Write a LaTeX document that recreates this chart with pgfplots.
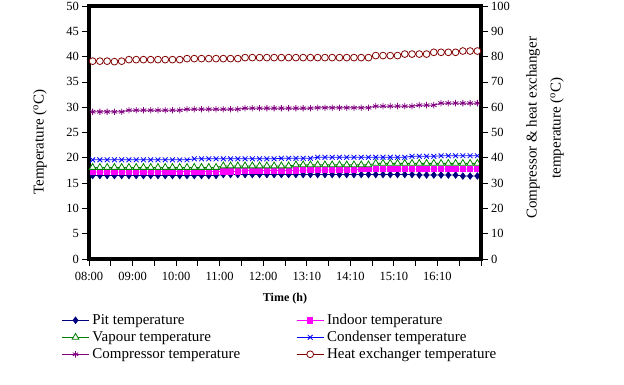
\documentclass[border=0pt]{standalone}
\usepackage{fontspec}
\setmainfont{Liberation Serif}
\usepackage{pgfplots}
\usepackage{pgfplotstable}
\pgfplotsset{compat=1.18}
\definecolor{pitc}{HTML}{000080}
\definecolor{indc}{HTML}{FF00FF}
\definecolor{vapc}{HTML}{008000}
\definecolor{conc}{HTML}{0000FF}
\definecolor{comc}{HTML}{800080}
\definecolor{hexc}{HTML}{800000}

\pgfplotstableread{
x pit indoor vapour cond comp he
0.5 16.5 17.2 18.1 19.6 58.2 78.2
1.5 16.5 17.2 18.1 19.6 58.2 78.2
2.5 16.5 17.2 18.1 19.6 58.2 78.2
3.5 16.5 17.2 18.1 19.6 58.2 78.0
4.5 16.5 17.2 18.1 19.6 58.2 78.2
5.5 16.5 17.2 18.1 19.6 58.8 78.8
6.5 16.5 17.2 18.1 19.6 58.8 78.8
7.5 16.5 17.2 18.1 19.6 58.8 78.8
8.5 16.5 17.2 18.1 19.6 58.8 78.8
9.5 16.5 17.2 18.1 19.6 58.8 78.8
10.5 16.5 17.3 18.1 19.6 58.8 78.8
11.5 16.5 17.3 18.1 19.6 58.8 78.8
12.5 16.5 17.3 18.1 19.6 58.8 78.8
13.5 16.5 17.3 18.1 19.6 59.2 79.2
14.5 16.5 17.3 18.1 19.8 59.2 79.2
15.5 16.5 17.3 18.1 19.8 59.2 79.2
16.5 16.5 17.3 18.1 19.8 59.2 79.2
17.5 16.5 17.3 18.1 19.8 59.2 79.2
18.5 16.7 17.3 18.4 19.8 59.2 79.2
19.5 16.7 17.3 18.4 19.8 59.2 79.2
20.5 16.7 17.3 18.4 19.8 59.2 79.2
21.5 16.7 17.5 18.4 19.8 59.6 79.6
22.5 16.7 17.5 18.4 19.8 59.6 79.6
23.5 16.7 17.5 18.4 19.8 59.6 79.6
24.5 16.7 17.5 18.4 19.8 59.6 79.6
25.5 16.7 17.5 18.4 19.8 59.6 79.6
26.5 16.7 17.5 18.4 19.9 59.6 79.6
27.5 16.7 17.5 18.4 19.9 59.6 79.6
28.5 16.7 17.5 18.6 19.9 59.6 79.6
29.5 16.7 17.6 18.6 19.9 59.6 79.6
30.5 16.7 17.6 18.6 19.9 59.6 79.6
31.5 16.7 17.6 18.6 20.1 59.8 79.6
32.5 16.7 17.6 18.6 20.1 59.8 79.6
33.5 16.7 17.6 18.6 20.1 59.8 79.6
34.5 16.7 17.6 18.6 20.1 59.8 79.6
35.5 16.7 17.6 18.6 20.1 59.8 79.6
36.5 16.7 17.6 18.6 20.1 59.8 79.6
37.5 16.7 17.8 18.6 20.1 59.8 79.6
38.5 16.7 17.8 18.6 20.1 59.8 79.6
39.5 16.7 17.8 18.9 20.1 60.4 80.4
40.5 16.7 17.8 18.9 20.1 60.4 80.4
41.5 16.7 17.8 18.9 20.1 60.4 80.4
42.5 16.7 17.8 18.9 20.1 60.4 80.4
43.5 16.7 17.8 18.9 20.1 60.4 81.0
44.5 16.7 17.8 18.9 20.3 60.4 81.0
45.5 16.6 17.8 18.9 20.3 60.8 81.0
46.5 16.6 17.8 18.9 20.3 60.8 81.0
47.5 16.6 17.8 18.9 20.3 60.8 81.7
48.5 16.6 17.8 18.9 20.4 61.6 81.7
49.5 16.6 17.8 18.9 20.4 61.6 81.7
50.5 16.6 17.8 18.9 20.4 61.6 81.7
51.5 16.4 17.8 18.9 20.4 61.6 82.2
52.5 16.4 17.8 18.9 20.4 61.6 82.2
53.5 16.4 17.8 18.9 20.4 61.6 82.2
}\datatable

\pgfplotsset{
  common/.style={width=392pt,height=253pt,scale only axis,at={(0,0)},anchor=south west,
    xmin=0,xmax=54,tick align=outside,major tick length=6.5pt,minor tick length=6.5pt,
    tick style={black,line width=0.8pt},axis line style={line width=4.2pt},
    ticklabel style={font=\fontsize{12.5}{14}\selectfont},
    /pgf/number format/assume math mode=true},
  pitstyle/.style={pitc,line width=0.8pt,mark=diamond*,mark size=3.2pt,mark options={solid,fill=pitc}},
  indstyle/.style={indc,line width=0.8pt,mark=square*,mark size=2.7pt,mark options={solid,fill=indc}},
  vapstyle/.style={vapc,line width=0.8pt,mark=triangle*,mark size=3.9pt,mark options={solid,fill=white}},
  constyle/.style={conc,line width=0.8pt,mark=x,mark size=3.4pt,mark options={solid}},
  comstyle/.style={comc,line width=0.8pt,mark=asterisk,mark size=3.2pt,mark options={solid}},
  hexstyle/.style={hexc,line width=0.8pt,mark=*,mark size=3.4pt,mark options={solid,fill=white}},
}

\begin{document}
\begin{tikzpicture}
\path[use as bounding box] (-89pt,-125pt) rectangle (535pt,259pt);
\begin{axis}[common,
  ymin=0,ymax=50,ytick={0,5,...,50},
  xtick={0,6,...,48},
  xticklabels={08:00,09:00,10:00,11:00,12:00,13:10,14:10,15:10,16:10},
  minor xtick={3,9,...,51,54},
  xtick pos=left,ytick pos=left,
  xticklabel style={yshift=-3pt},
  xlabel={\textbf{Time (h)}},
  xlabel style={at={(axis description cs:0.5,-0.158)},anchor=center,font=\fontsize{12}{14}\selectfont},
  ylabel={Temperature (\textsuperscript{o}C)},
  ylabel style={at={(axis description cs:-0.125,0.462)},anchor=center,font=\fontsize{15}{18}\selectfont},
]
\addplot[pitstyle] table[x=x,y=pit]{\datatable};
\addplot[indstyle] table[x=x,y=indoor]{\datatable};
\addplot[vapstyle] table[x=x,y=vapour]{\datatable};
\addplot[constyle] table[x=x,y=cond]{\datatable};
\end{axis}
\begin{axis}[common,
  ymin=0,ymax=100,ytick={0,10,...,100},
  axis y line*=right,axis x line=none,
  ylabel={Compressor \& heat exchanger\\temperature (\textsuperscript{o}C)},
  ylabel style={at={(axis description cs:1.163,0.518)},anchor=center,align=center,font=\fontsize{15}{24}\selectfont},
  legend columns=2,
  legend cell align=left,
  legend image code/.code={\draw[mark repeat=2,mark phase=2,#1] plot coordinates {(0pt,0pt) (13.5pt,0pt) (27pt,0pt)};},
  legend style={at={(axis description cs:-0.078,-0.2)},anchor=north west,draw=none,fill=none,
    font=\fontsize{15}{17}\selectfont,
    nodes={text height=11pt,text depth=3pt,inner ysep=1.5pt,inner xsep=3pt},
    /tikz/column 2/.style={column sep=53pt}},
]
\addlegendimage{pitstyle}
\addlegendentry{Pit temperature}
\addlegendimage{indstyle}
\addlegendentry{Indoor temperature}
\addlegendimage{vapstyle}
\addlegendentry{Vapour temperature}
\addlegendimage{constyle}
\addlegendentry{Condenser temperature}
\addplot[comstyle] table[x=x,y=comp]{\datatable};
\addlegendentry{Compressor temperature}
\addplot[hexstyle] table[x=x,y=he]{\datatable};
\addlegendentry{Heat exchanger temperature}
\end{axis}
\end{tikzpicture}
\end{document}
